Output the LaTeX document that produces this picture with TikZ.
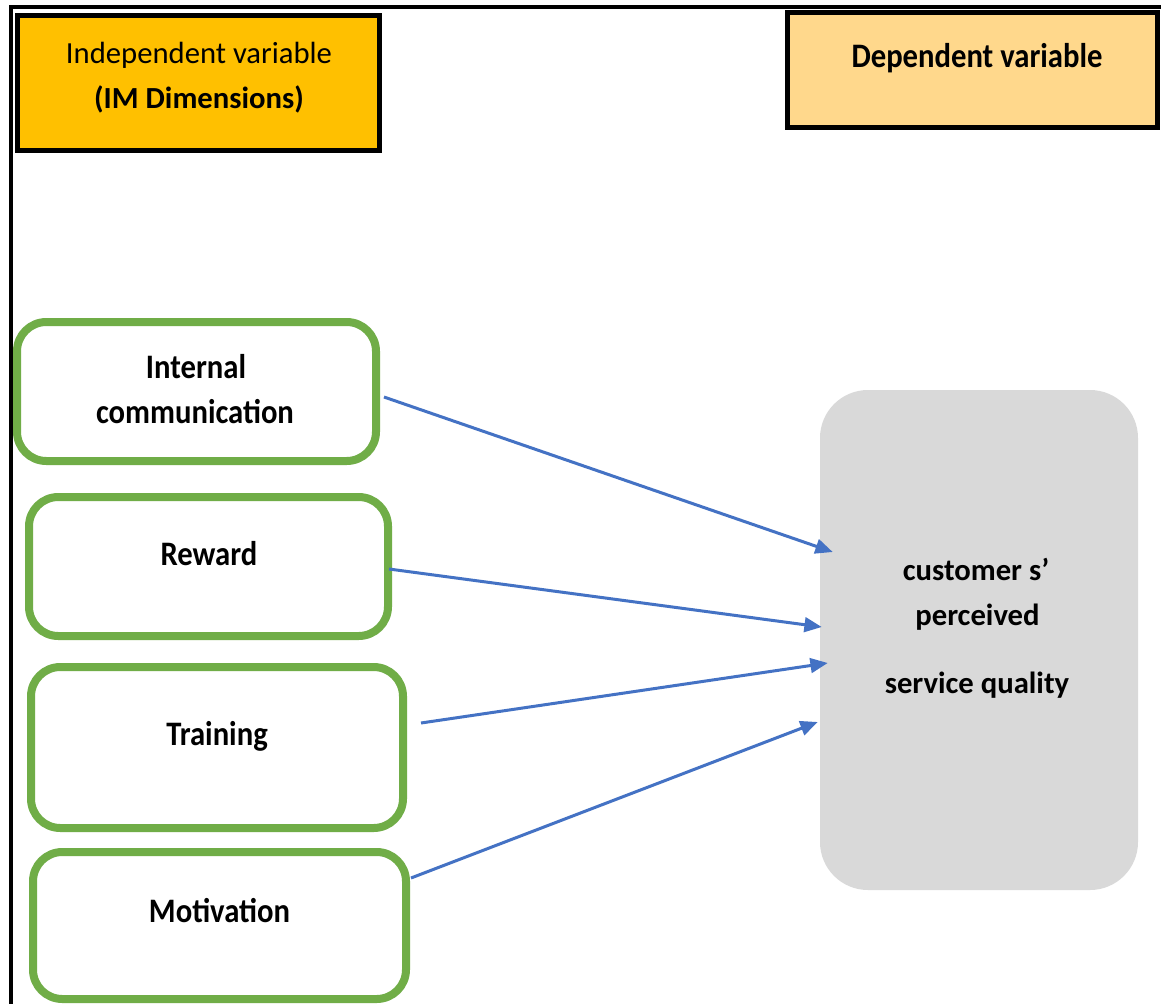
\documentclass[tikz,border=0pt]{standalone}
\usepackage{fontspec}
\setmainfont{Carlito}
\usepackage{graphicx}
\usetikzlibrary{arrows.meta,calc}
\definecolor{imorange}{HTML}{FFC000}
\definecolor{deporange}{HTML}{FFD88C}
\definecolor{boxgreen}{HTML}{70AD47}
\definecolor{arrowblue}{HTML}{4472C4}
\definecolor{qgrey}{HTML}{D9D9D9}
\newcommand{\stretchv}[1]{\scalebox{1}[1.12]{#1}}
\begin{document}
\begin{tikzpicture}[x=0.75pt,y=-0.75pt,
 headbox/.style={draw=black,line width=3.75pt,inner sep=0pt},
 dimbox/.style={draw=boxgreen,line width=6pt,rounded corners=22pt,fill=white,inner sep=0pt},
 qualbox/.style={fill=qgrey,rounded corners=36pt,inner sep=0pt,minimum width=318*0.75pt,minimum height=500*0.75pt},
 lbl/.style={font=\fontsize{23}{27}\selectfont\bfseries,anchor=base,inner sep=0pt},
 lblreg/.style={font=\fontsize{23}{27}\selectfont,anchor=base,inner sep=0pt},
 link/.style={draw=arrowblue,line width=2.25pt,-{Triangle[length=13pt,width=11pt]}}]
\useasboundingbox (0,0) rectangle (1161,1004);
\fill[white] (0,0) rectangle (1161,1004);
% frame
\draw[line width=3pt] (1161,6.5) -- (11,6.5) -- (11,1004);
% header boxes
\node[headbox,fill=imorange,minimum width=362*0.75pt,minimum height=135*0.75pt] (ind) at (198.5,83) {};
\node[headbox,fill=deporange,minimum width=370*0.75pt,minimum height=115*0.75pt] (dep) at (972.5,70) {};
% dimension boxes
\node[dimbox,minimum width=359*0.75pt,minimum height=139*0.75pt] (ic) at (196.5,391.5) {};
\node[dimbox,minimum width=359*0.75pt,minimum height=139*0.75pt] (rw) at (208.5,566.5) {};
\node[dimbox,minimum width=372*0.75pt,minimum height=161*0.75pt] (tr) at (217,747.5) {};
\node[dimbox,minimum width=373*0.75pt,minimum height=147*0.75pt] (mo) at (219.5,925.5) {};
% outcome box
\node[qualbox] (psq) at (979,640) {};
% texts
\node[lblreg] (indA) at (199,63) {Independent variable};
\node[lbl] (indB) at (199,108) {(IM Dimensions)};
\node[lbl] (depT) at (977,67) {\stretchv{Dependent variable}};
\node[lbl] (icA) at (196,378) {\stretchv{Internal}};
\node[lbl] (icB) at (195,423) {\stretchv{communication}};
\node[lbl] (rwT) at (209,565) {\stretchv{Reward}};
\node[lbl] (trT) at (217,745) {\stretchv{Training}};
\node[lbl] (moT) at (219.5,922) {\stretchv{Motivation}};
\node[lbl] (psqA) at (976,580) {customer s’};
\node[lbl] (psqB) at (977.5,625) {perceived};
\node[lbl] (psqC) at (977,693) {service quality};
% arrow tips
\coordinate (t1) at ($(psq.west)+(13,-88)$);
\coordinate (t2) at ($(psq.west)+(2,-13)$);
\coordinate (t3) at ($(psq.west)+(8,23)$);
\coordinate (t4) at ($(psq.west)+(-2,82)$);
\draw[link] ($(ic.east)+(4,5.5)$) -- (t1);
\draw[link] ($(rw.east)+(-3,2.5)$) -- (t2);
\draw[link] ($(tr.east)+(14,-24.5)$) -- (t3);
\draw[link] ($(mo.east)+(1,-47.5)$) -- (t4);
\end{tikzpicture}
\end{document}
